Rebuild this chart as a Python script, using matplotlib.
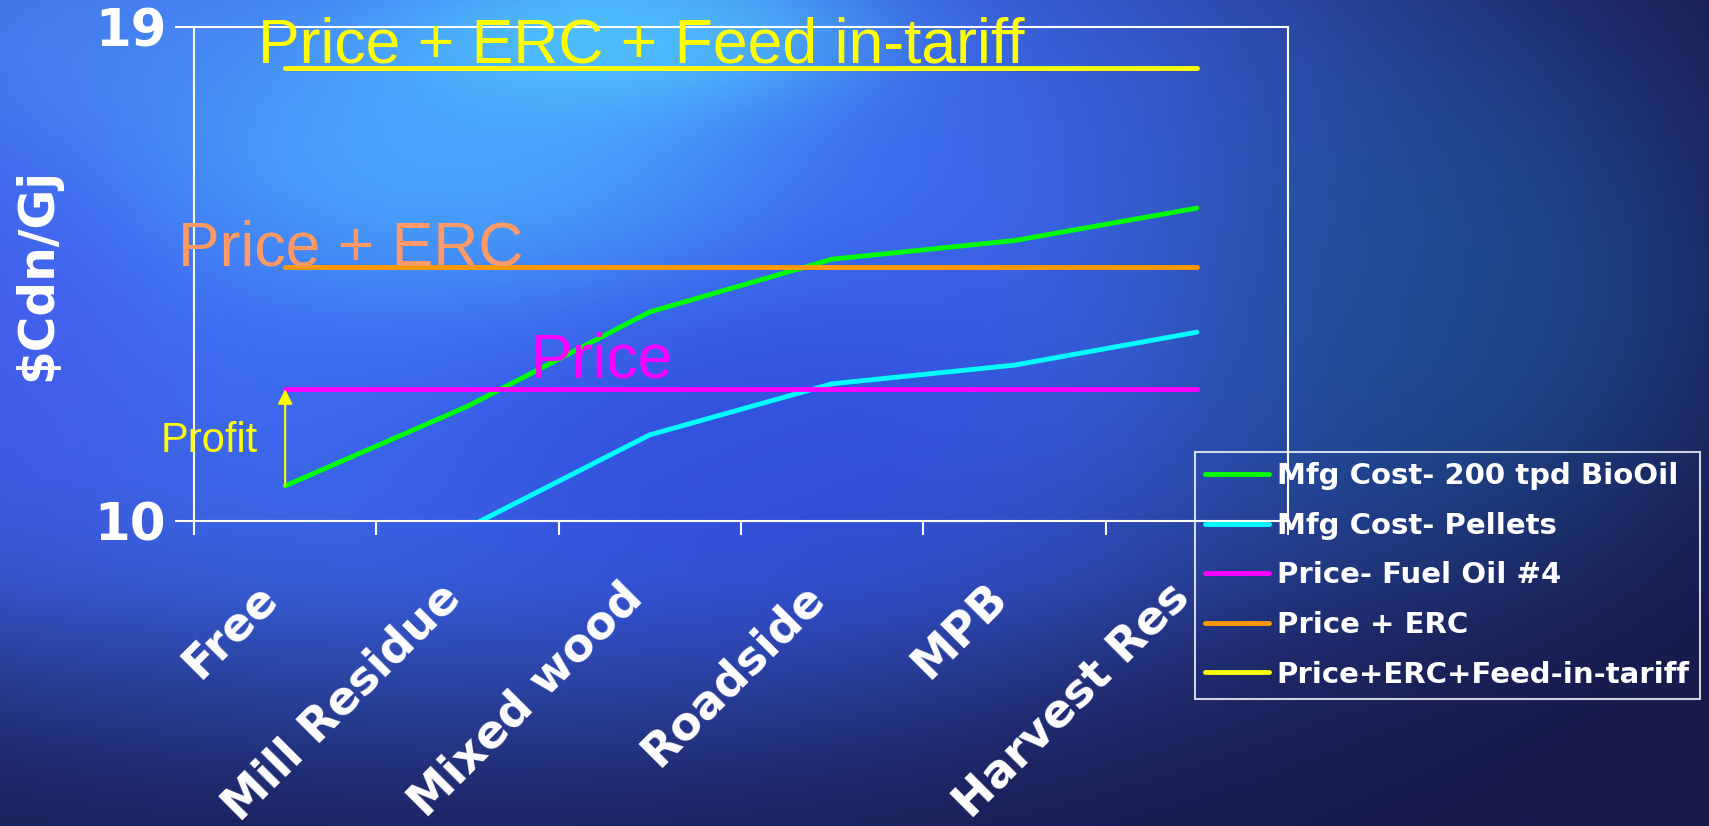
import numpy as np
import matplotlib
matplotlib.use("Agg")
import matplotlib.pyplot as plt
from matplotlib.transforms import ScaledTranslation

# feedstock categories and cost / price series ($Cdn/Gj)
categories = ["Free", "Mill Residue", "Mixed wood", "Roadside", "MPB", "Harvest Res"]
cost_biooil = [10.64, 12.09, 13.81, 14.77, 15.11, 15.70]
cost_pellets = [np.nan, 9.88, 11.57, 12.50, 12.84, 13.44]
price_fuel_oil = 12.40
price_erc = 14.63
price_erc_fit = 18.25
y_ticks = [10, 19]

W, H = 1709, 826
fig = plt.figure(figsize=(W / 100, H / 100), dpi=100)

# slide-style blue background
yy, xx = np.mgrid[0:H, 0:W].astype(float)
img = np.zeros((H, W, 3))
img[:] = (0.09, 0.10, 0.29)


def blob(img, cx, cy, sx, sy, color, amp, p=1.3):
    w = amp * np.exp(-(((xx - cx) / sx) ** 2 + ((yy - cy) / sy) ** 2) ** p)
    return img * (1 - w[..., None]) + np.array(color) * w[..., None]


img = blob(img, 450, 220, 1050, 560, (0.24, 0.42, 0.95), 1.0, p=2.0)
img = blob(img, 750, 450, 320, 200, (0.17, 0.24, 0.82), 0.5)
img = blob(img, 450, 130, 330, 170, (0.30, 0.72, 1.00), 0.75)
img = blob(img, 640, 30, 230, 80, (0.33, 0.85, 1.00), 0.6)
img = blob(img, 80, 40, 250, 120, (0.30, 0.55, 0.95), 0.5)
img = blob(img, 1450, 300, 260, 260, (0.10, 0.32, 0.56), 0.6)
img = blob(img, 0, 380, 160, 220, (0.30, 0.32, 0.92), 0.4)
shade = np.clip((yy - 580) / 280, 0, 1) * 0.5
img = img * (1 - shade[..., None]) + np.array((0.09, 0.11, 0.32)) * shade[..., None]

bg = fig.add_axes([0, 0, 1, 1], zorder=0)
bg.imshow(np.clip(img, 0, 1), aspect="auto", interpolation="bilinear")
bg.axis("off")

ax = fig.add_axes([194 / W, 1 - 521 / H, 1094 / W, 494 / H], zorder=1)
ax.set_facecolor("none")

x = np.arange(len(categories))
lw = 3.5
ax.plot(x, cost_biooil, color="#00FF00", lw=lw, label="Mfg Cost- 200 tpd BioOil", solid_capstyle="round")
ax.plot(x, cost_pellets, color="#00FFFF", lw=lw, label="Mfg Cost- Pellets", solid_capstyle="round")
ax.plot(x[[0, -1]], [price_fuel_oil] * 2, color="#FF00FF", lw=lw, label="Price- Fuel Oil #4", solid_capstyle="round")
ax.plot(x[[0, -1]], [price_erc] * 2, color="#FF9900", lw=lw, label="Price + ERC", solid_capstyle="round")
ax.plot(x[[0, -1]], [price_erc_fit] * 2, color="#FFFF00", lw=lw, label="Price+ERC+Feed-in-tariff", solid_capstyle="round")

ax.set_xlim(-0.5, len(categories) - 0.5)
ax.set_ylim(y_ticks[0], y_ticks[-1])

for s in ax.spines.values():
    s.set_color("white")
    s.set_linewidth(1.5)

ax.set_yticks(y_ticks)
ax.set_yticklabels([str(v) for v in y_ticks], fontsize=37, fontweight="bold",
                   color="white", family="DejaVu Sans")
ax.tick_params(axis="y", direction="out", length=14, width=1.5, color="white", pad=6)

ax.set_xticks(x)
ax.set_xticks(np.arange(-0.5, len(categories)), minor=True)
ax.set_xticklabels(categories, rotation=45, ha="right", va="center", rotation_mode="anchor",
                   fontsize=33, fontweight="bold", color="white", family="DejaVu Sans")
ax.tick_params(axis="x", which="major", length=0, pad=50)
ax.tick_params(axis="x", which="minor", direction="out", length=10, width=1.5, color="white")
shift = ScaledTranslation(-14 / 100, 0, fig.dpi_scale_trans)
for lab in ax.get_xticklabels():
    lab.set_transform(lab.get_transform() + shift)

ax.set_ylabel("$Cdn/Gj", fontsize=35, fontweight="bold", color="white", family="DejaVu Sans")
ax.yaxis.set_label_coords(-0.121, 0.5)

# line captions
big = dict(family="Liberation Sans", fontsize=45, va="baseline", ha="left")
ax.text(-0.149, 18.36, "Price + ERC + Feed in-tariff", color="#FFFF00", **big)
ax.text(-0.588, 14.66, "Price + ERC", color="#FF9966", **big)
ax.text(1.349, 12.61, "Price", color="#FF00FF", **big)

# profit margin arrow at the free feedstock
ax.annotate("", xy=(0, price_fuel_oil), xytext=(0, cost_biooil[0]),
            arrowprops=dict(arrowstyle="-|>", color="#FFFF00", lw=1.5,
                            mutation_scale=22, shrinkA=0, shrinkB=0))
ax.text(-0.681, 11.46, "Profit", color="#FFFF00", family="Liberation Sans",
        fontsize=30, va="center", ha="left")

leg = ax.legend(loc="upper left", bbox_to_anchor=(1195 / W, 1 - 452 / H),
                bbox_transform=fig.transFigure, frameon=True, fancybox=False,
                prop=dict(family="DejaVu Sans", weight="bold", size=21),
                labelcolor="white", handlelength=2.2, handletextpad=0.25,
                labelspacing=0.74, borderpad=0.35, borderaxespad=0)
leg.get_frame().set_facecolor("none")
leg.get_frame().set_edgecolor("white")
leg.get_frame().set_linewidth(1.5)

fig.savefig("out.png", dpi=100)
